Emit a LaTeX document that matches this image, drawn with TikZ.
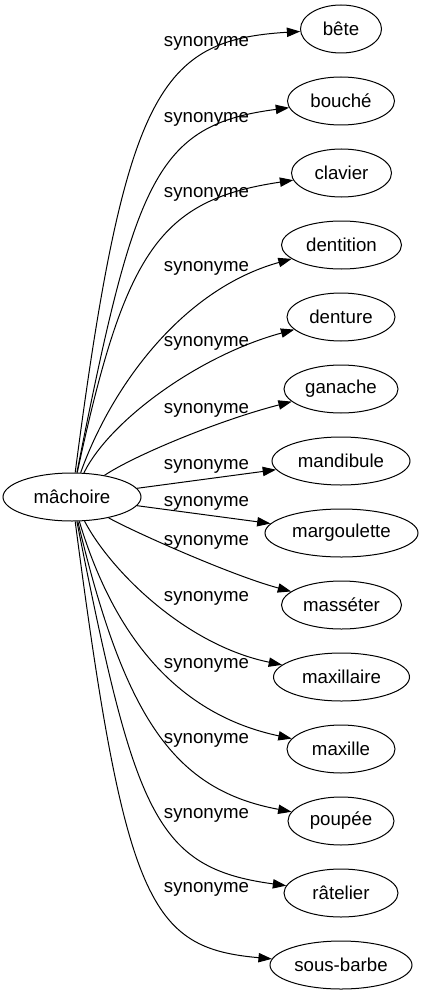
\documentclass[tikz,border=0pt]{standalone}
\usepackage{fontspec}
\setmainfont{Liberation Sans}
\usetikzlibrary{arrows.meta,shapes.geometric}
\begin{document}
\begin{tikzpicture}[x=0.75pt,y=-0.75pt,
  every node/.style={font=\fontsize{14}{16}\selectfont},
  term/.style={draw,ellipse,line width=0.75pt,inner sep=0pt,minimum height=36pt,minimum width=#1*0.75pt},
  rel/.style={anchor=base},
  link/.style={draw,line width=0.75pt,-{Triangle[length=10pt,width=7pt]}}]
\useasboundingbox (0,0) rectangle (423,995);
\node[term=138] (m) at (72,497) {mâchoire};
\node[term=81]  (n1)  at (341,29)  {bête};
\node[term=107] (n2)  at (341,101) {bouché};
\node[term=100] (n3)  at (341.5,173) {clavier};
\node[term=120] (n4)  at (341.5,245) {dentition};
\node[term=108] (n5)  at (341,317) {denture};
\node[term=114] (n6)  at (341,389) {ganache};
\node[term=138] (n7)  at (341,461) {mandibule};
\node[term=153] (n8)  at (341.5,533) {margoulette};
\node[term=120] (n9)  at (341.5,605) {masséter};
\node[term=136] (n10) at (341.5,677) {maxillaire};
\node[term=108] (n11) at (341,749) {maxille};
\node[term=106] (n12) at (341,821) {poupée};
\node[term=114] (n13) at (341,893) {râtelier};
\node[term=142] (n14) at (341,965) {sous-barbe};
\path[link] (m) .. controls (125,90) and (160,40) .. (n1);
\path[link] (m) .. controls (135,180) and (155,125) .. (n2);
\path[link] (m) .. controls (125,250) and (160,200) .. (n3);
\path[link] (m) .. controls (110,390) and (180,290) .. (n4);
\path[link] (m) .. controls (110,420) and (200,355) .. (n5);
\path[link] (m) .. controls (135,455) and (220,420) .. (n6);
\path[link] (m) -- (n7);
\path[link] (m) -- (n8);
\path[link] (m) .. controls (130,530) and (230,575) .. (n9);
\path[link] (m) .. controls (110,570) and (185,645) .. (n10);
\path[link] (m) .. controls (115,640) and (180,715) .. (n11);
\path[link] (m) .. controls (125,720) and (175,790) .. (n12);
\path[link] (m) .. controls (135,814) and (155,868) .. (n13);
\path[link] (m) .. controls (125,904) and (150,948) .. (n14);
\node[rel] (l1)  at (206.5,46.4)  {synonyme};
\node[rel] (l2)  at (206.5,122.9) {synonyme};
\node[rel] (l3)  at (206.5,197.9) {synonyme};
\node[rel] (l4)  at (206.5,271.4) {synonyme};
\node[rel] (l5)  at (206.5,346.4) {synonyme};
\node[rel] (l6)  at (206.5,413.9) {synonyme};
\node[rel] (l7)  at (206.5,469.9) {synonyme};
\node[rel] (l8)  at (206.5,506.9) {synonyme};
\node[rel] (l9)  at (206.5,545.4) {synonyme};
\node[rel] (l10) at (206.5,601.4) {synonyme};
\node[rel] (l11) at (206.5,668.4) {synonyme};
\node[rel] (l12) at (206.5,743.9) {synonyme};
\node[rel] (l13) at (206.5,818.4) {synonyme};
\node[rel] (l14) at (206.5,892.4) {synonyme};
\end{tikzpicture}
\end{document}
